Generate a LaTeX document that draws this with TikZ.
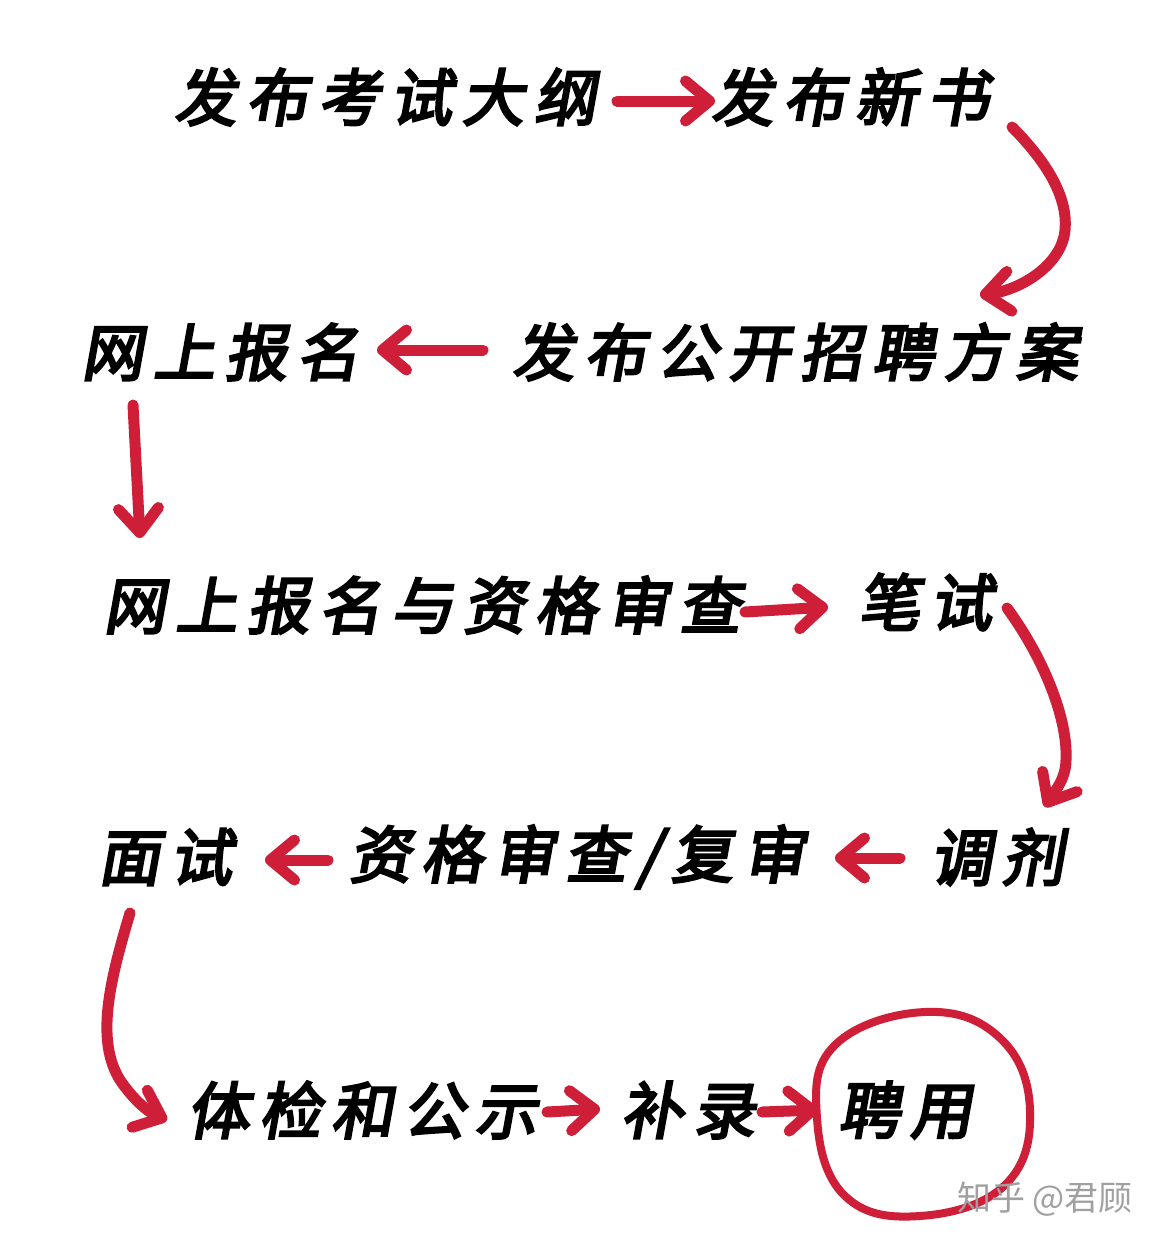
\documentclass[tikz,border=0pt]{standalone}
\usepackage{fontspec}
\usetikzlibrary{arrows.meta}
\newfontfamily\hand{Noto Sans CJK SC}[FakeSlant=0.18, FakeBold=4, LetterSpace=16]
\newfontfamily\wmfont{Noto Sans CJK SC}
\definecolor{arrowred}{RGB}{206,30,56}
\definecolor{wmgray}{RGB}{160,160,160}
\begin{document}
\begin{tikzpicture}[x=1pt,y=-1pt,
  lbl/.style={font=\hand\fontsize{62}{62}\selectfont, text=black, inner sep=0pt},
  arr/.style={draw=arrowred, line width=11pt, line cap=round, line join=round,
    -{Straight Barb[length=24pt,width=40pt,round]}},
  ring/.style={draw=arrowred, line width=8pt, line join=round}]
\useasboundingbox[fill=white] (0,0) rectangle (1165,1250);

% texts
\node[lbl] (t1) at (385,97) {发布考试大纲};
\node[lbl] (t2) at (850,97) {发布新书};
\node[lbl] (t3) at (220,352) {网上报名};
\node[lbl] (t4) at (795,352) {发布公开招聘方案};
\node[lbl] (t5) at (422,605) {网上报名与资格审查};
\node[lbl] (t6) at (925,602) {笔试};
\node[lbl] (t7) at (165,857) {面试};
\node[lbl] (t8) at (577,857) {资格审查/复审};
\node[lbl] (t9) at (997,857) {调剂};
\node[lbl] (t10) at (362,1110) {体检和公示};
\node[lbl] (t11) at (688,1110) {补录};
\node[lbl] (t12) at (905,1110) {聘用};

% arrow end points
\coordinate (a1s) at (617,101);  \coordinate (a1e) at (715,101);
\coordinate (a2s) at (1012,127); \coordinate (a2e) at (980,295);
\coordinate (a3s) at (483,350);  \coordinate (a3e) at (377,350);
\coordinate (a4s) at (133,405);  \coordinate (a4e) at (140,538);
\coordinate (a5s) at (745,612);  \coordinate (a5e) at (828,607);
\coordinate (a6s) at (1007,608); \coordinate (a6e) at (1045,807);
\coordinate (a7s) at (900,858);  \coordinate (a7e) at (835,858);
\coordinate (a8s) at (328,860);  \coordinate (a8e) at (265,860);
\coordinate (a9s) at (130,913);  \coordinate (a9e) at (167,1120);
\coordinate (a10s) at (547,1112); \coordinate (a10e) at (600,1109);
\coordinate (a11s) at (762,1112); \coordinate (a11e) at (818,1110);

% connectors
\draw[arr] (a1s) -- (a1e);
\draw[arr] (a2s) .. controls (1050,165) and (1068,200) .. (1065,230)
                 .. controls (1062,265) and (1020,290) .. (a2e);
\draw[arr] (a3s) -- (a3e);
\draw[arr] (a4s) -- (a4e);
\draw[arr] (a5s) -- (a5e);
\draw[arr] (a6s) .. controls (1045,660) and (1068,720) .. (1066,760)
                 .. controls (1066,780) and (1052,795) .. (a6e);
\draw[arr] (a7s) -- (a7e);
\draw[arr] (a8s) -- (a8e);
\draw[arr] (a9s) .. controls (110,980) and (95,1040) .. (120,1080)
                 .. controls (135,1102) and (150,1113) .. (a9e);
\draw[arr] (a10s) -- (a10e);
\draw[arr] (a11s) -- (a11e);

% circle around the last step
\draw[ring] plot[smooth cycle, tension=0.7] coordinates {
  (925,1012) (1000,1038) (1030,1110) (1005,1185) (920,1216)
  (845,1196) (817,1118) (835,1045)};

% watermark, on top of the circle
\node[font=\wmfont\fontsize{34}{34}\selectfont, text=wmgray, inner sep=0pt] (wm) at (1045,1199) {知乎 @君顾};
\end{tikzpicture}
\end{document}
